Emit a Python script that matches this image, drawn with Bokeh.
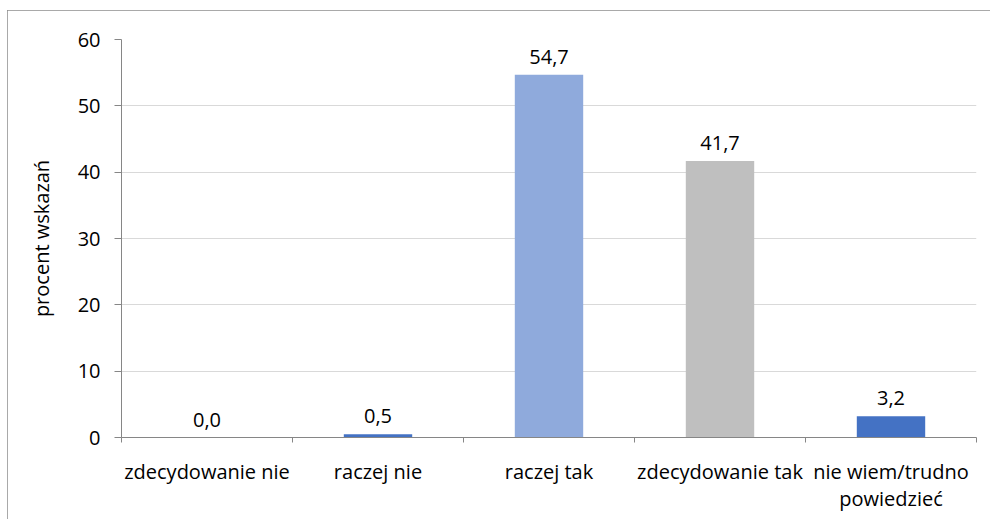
from bokeh.plotting import figure
from bokeh.models import ColumnDataSource, Range1d, FixedTicker, LinearAxis
from bokeh.embed import file_html
from bokeh.resources import INLINE
from bokeh.core.properties import value

categories = ["zdecydowanie nie", "raczej nie", "raczej tak", "zdecydowanie tak", "nie wiem/trudno\npowiedzieć"]
values = [0.0, 0.5, 54.7, 41.7, 3.2]
colors = ["#4472C4", "#4472C4", "#8FAADC", "#BFBFBF", "#4472C4"]
y_ticks = [0, 10, 20, 30, 40, 50, 60]
y_label = "procent wskazań"

FONT = "Open Sans"
FS = "20px"

xpos = [i + 0.5 for i in range(len(categories))]
labels = [f"{v:.1f}".replace(".", ",") for v in values]
src = ColumnDataSource(dict(x=xpos, top=values, color=colors, label=labels))

p = figure(width=983, height=509, output_backend="svg", toolbar_location=None,
           x_range=Range1d(0, len(categories)), y_range=Range1d(0, 60),
           min_border_left=114, min_border_right=14, min_border_top=29, min_border_bottom=82,
           x_axis_location=None)
p.margin = (10, 0, 0, 7)
p.styles = {"outline": "1px solid #8c8c8c", "outline-offset": "-1px"}
p.outline_line_color = None
p.background_fill_color = "white"
p.border_fill_color = "white"

p.vbar(x="x", top="top", width=0.4, bottom=0, fill_color="color", line_color=None, source=src)
p.text(x="x", y="top", text="label", source=src, text_align="center", text_baseline="alphabetic",
       y_offset=-18, text_font=value(FONT), text_font_size=FS, text_color="#000000")

# y axis
ya = p.yaxis[0]
ya.ticker = FixedTicker(ticks=y_ticks)
ya.axis_label = y_label
ya.axis_label_text_font = FONT
ya.axis_label_text_font_size = FS
ya.axis_label_text_font_style = "normal"
ya.axis_label_text_color = "#000000"
ya.axis_label_standoff = 20
ya.major_label_text_font = FONT
ya.major_label_text_font_size = FS
ya.major_label_text_color = "#000000"
ya.major_label_standoff = 14
ya.axis_line_color = "#868686"
ya.major_tick_line_color = "#868686"
ya.major_tick_out = 7
ya.major_tick_in = 0
ya.minor_tick_line_color = None

p.ygrid.ticker = FixedTicker(ticks=y_ticks)
p.ygrid.grid_line_color = "#d9d9d9"
p.xgrid.grid_line_color = None

# x axis: boundary ticks
xa1 = LinearAxis(ticker=FixedTicker(ticks=list(range(len(categories) + 1))))
xa1.major_label_overrides = {i: "" for i in range(len(categories) + 1)}
xa1.major_label_text_font_size = "0px"
xa1.major_label_standoff = 0
xa1.axis_line_color = "#868686"
xa1.major_tick_line_color = "#868686"
xa1.major_tick_out = 5
xa1.major_tick_in = 0
xa1.minor_tick_line_color = None
p.add_layout(xa1, "below")

# x axis: category labels
xa2 = LinearAxis(ticker=FixedTicker(ticks=xpos))
xa2.major_label_overrides = {x: c for x, c in zip(xpos, categories)}
xa2.major_label_text_font = FONT
xa2.major_label_text_font_size = FS
xa2.major_label_text_color = "#000000"
xa2.major_label_text_line_height = 1.0
xa2.major_label_standoff = 9
xa2.axis_line_color = None
xa2.major_tick_line_color = None
xa2.minor_tick_line_color = None
p.add_layout(xa2, "below")

open("out.html", "w").write(file_html(p, INLINE))
